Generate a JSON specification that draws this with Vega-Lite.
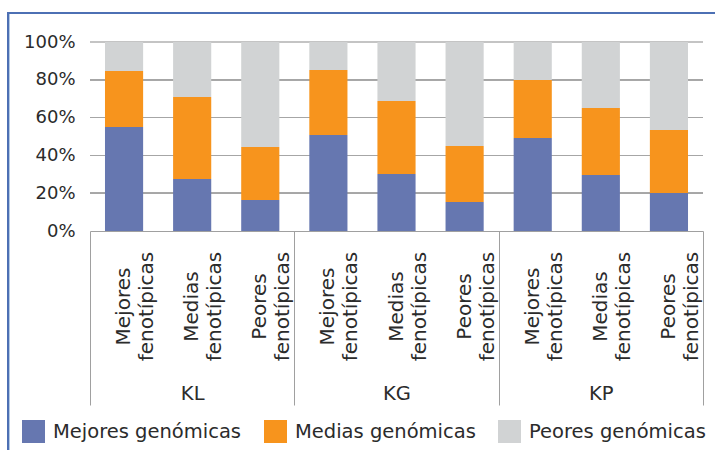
{
  "$schema": "https://vega.github.io/schema/vega-lite/v6.json",
  "autosize": {"type": "none"},
  "width": 613,
  "height": 189,
  "padding": {"left": 90, "top": 42, "right": 12, "bottom": 219},
  "background": "white",
  "config": {
    "font": "DejaVu Sans",
    "view": {"stroke": null},
    "axis": {"labelColor": "#2b2b2b", "labelFont": "DejaVu Sans"},
    "axisY": {"grid": false, "labelOverlap": false, "domain": false, "ticks": false, "labelPadding": 15, "labelFontSize": 18},
    "legend": {"labelColor": "#2b2b2b", "labelFont": "DejaVu Sans"}
  },
  "data": {
    "values": [
      {"grupo": "KL", "barra": "KL Mejores fenotípicas", "genomica": "Mejores genómicas", "k": 1, "valor": 55.0},
      {"grupo": "KL", "barra": "KL Mejores fenotípicas", "genomica": "Medias genómicas", "k": 2, "valor": 29.7},
      {"grupo": "KL", "barra": "KL Mejores fenotípicas", "genomica": "Peores genómicas", "k": 3, "valor": 15.3},
      {"grupo": "KL", "barra": "KL Medias fenotípicas", "genomica": "Mejores genómicas", "k": 1, "valor": 27.5},
      {"grupo": "KL", "barra": "KL Medias fenotípicas", "genomica": "Medias genómicas", "k": 2, "valor": 43.4},
      {"grupo": "KL", "barra": "KL Medias fenotípicas", "genomica": "Peores genómicas", "k": 3, "valor": 29.1},
      {"grupo": "KL", "barra": "KL Peores fenotípicas", "genomica": "Mejores genómicas", "k": 1, "valor": 16.4},
      {"grupo": "KL", "barra": "KL Peores fenotípicas", "genomica": "Medias genómicas", "k": 2, "valor": 28.0},
      {"grupo": "KL", "barra": "KL Peores fenotípicas", "genomica": "Peores genómicas", "k": 3, "valor": 55.6},
      {"grupo": "KG", "barra": "KG Mejores fenotípicas", "genomica": "Mejores genómicas", "k": 1, "valor": 50.8},
      {"grupo": "KG", "barra": "KG Mejores fenotípicas", "genomica": "Medias genómicas", "k": 2, "valor": 34.4},
      {"grupo": "KG", "barra": "KG Mejores fenotípicas", "genomica": "Peores genómicas", "k": 3, "valor": 14.8},
      {"grupo": "KG", "barra": "KG Medias fenotípicas", "genomica": "Mejores genómicas", "k": 1, "valor": 30.2},
      {"grupo": "KG", "barra": "KG Medias fenotípicas", "genomica": "Medias genómicas", "k": 2, "valor": 38.6},
      {"grupo": "KG", "barra": "KG Medias fenotípicas", "genomica": "Peores genómicas", "k": 3, "valor": 31.2},
      {"grupo": "KG", "barra": "KG Peores fenotípicas", "genomica": "Mejores genómicas", "k": 1, "valor": 15.3},
      {"grupo": "KG", "barra": "KG Peores fenotípicas", "genomica": "Medias genómicas", "k": 2, "valor": 29.7},
      {"grupo": "KG", "barra": "KG Peores fenotípicas", "genomica": "Peores genómicas", "k": 3, "valor": 55.0},
      {"grupo": "KP", "barra": "KP Mejores fenotípicas", "genomica": "Mejores genómicas", "k": 1, "valor": 49.2},
      {"grupo": "KP", "barra": "KP Mejores fenotípicas", "genomica": "Medias genómicas", "k": 2, "valor": 30.7},
      {"grupo": "KP", "barra": "KP Mejores fenotípicas", "genomica": "Peores genómicas", "k": 3, "valor": 20.1},
      {"grupo": "KP", "barra": "KP Medias fenotípicas", "genomica": "Mejores genómicas", "k": 1, "valor": 29.6},
      {"grupo": "KP", "barra": "KP Medias fenotípicas", "genomica": "Medias genómicas", "k": 2, "valor": 35.5},
      {"grupo": "KP", "barra": "KP Medias fenotípicas", "genomica": "Peores genómicas", "k": 3, "valor": 34.9},
      {"grupo": "KP", "barra": "KP Peores fenotípicas", "genomica": "Mejores genómicas", "k": 1, "valor": 20.1},
      {"grupo": "KP", "barra": "KP Peores fenotípicas", "genomica": "Medias genómicas", "k": 2, "valor": 33.3},
      {"grupo": "KP", "barra": "KP Peores fenotípicas", "genomica": "Peores genómicas", "k": 3, "valor": 46.6}
    ]
  },
  "layer": [
    {"mark": {"type": "rect", "fill": "#a6a6a6", "clip": false}, "encoding": {"x": {"datum": 0, "type": "quantitative", "scale": {"domain": [0, 9], "nice": false, "zero": false}, "axis": null}, "x2": {"datum": 9}, "y": {"datum": 0.1974, "type": "quantitative", "axis": null}, "y2": {"datum": 0.2026}}},
    {"mark": {"type": "rect", "fill": "#a6a6a6", "clip": false}, "encoding": {"x": {"datum": 0, "type": "quantitative", "scale": {"domain": [0, 9], "nice": false, "zero": false}, "axis": null}, "x2": {"datum": 9}, "y": {"datum": 0.3974, "type": "quantitative", "axis": null}, "y2": {"datum": 0.4026}}},
    {"mark": {"type": "rect", "fill": "#a6a6a6", "clip": false}, "encoding": {"x": {"datum": 0, "type": "quantitative", "scale": {"domain": [0, 9], "nice": false, "zero": false}, "axis": null}, "x2": {"datum": 9}, "y": {"datum": 0.5974, "type": "quantitative", "axis": null}, "y2": {"datum": 0.6026}}},
    {"mark": {"type": "rect", "fill": "#a6a6a6", "clip": false}, "encoding": {"x": {"datum": 0, "type": "quantitative", "scale": {"domain": [0, 9], "nice": false, "zero": false}, "axis": null}, "x2": {"datum": 9}, "y": {"datum": 0.7974, "type": "quantitative", "axis": null}, "y2": {"datum": 0.8026}}},
    {"mark": {"type": "rect", "fill": "#c4c4c4", "clip": false}, "encoding": {"x": {"datum": 0, "type": "quantitative", "scale": {"domain": [0, 9], "nice": false, "zero": false}, "axis": null}, "x2": {"datum": 9}, "y": {"datum": 0.9974, "type": "quantitative", "axis": null}, "y2": {"datum": 1.0026}}},
    {
      "mark": {"type": "bar"},
      "encoding": {
        "x": {
          "field": "barra", "type": "nominal", "sort": null,
          "scale": {"paddingInner": 0.44, "paddingOuter": 0.22},
          "axis": {
            "orient": "bottom",
            "title": null, "domain": false, "ticks": false,
            "labelAngle": 270, "labelAlign": "center", "labelBaseline": "middle",
            "labelPadding": 75, "labelFontSize": 20, "labelLineHeight": 23,
            "labelLimit": 300,
            "labelExpr": "slice(split(datum.value, ' '), 1)"
          }
        },
        "y": {
          "field": "valor", "type": "quantitative", "stack": "normalize",
          "scale": {"domain": [0, 1], "nice": false},
          "axis": {
            "orient": "left",
            "title": null, "format": ".0%", "values": [0, 0.2, 0.4, 0.6, 0.8, 1],
            "labelOverlap": false, "grid": false
          }
        },
        "color": {
          "field": "genomica", "type": "nominal",
          "scale": {
            "domain": ["Mejores genómicas", "Medias genómicas", "Peores genómicas"],
            "range": ["#6677b0", "#f7941d", "#d1d3d4"]
          },
          "legend": {
            "title": null, "orient": "none", "legendX": -68, "legendY": 378,
            "direction": "horizontal", "symbolType": "square", "symbolSize": 529,
            "symbolStrokeWidth": 0, "symbolOpacity": 1,
            "labelFontSize": 19.5, "labelOffset": 8, "columnPadding": 22, "labelLimit": 400
          }
        },
        "order": {"field": "k", "type": "quantitative"}
      }
    },
    {
      "mark": {"type": "point", "opacity": 0},
      "encoding": {
        "x": {
          "field": "grupo", "type": "nominal", "sort": null,
          "scale": {"paddingInner": 0, "paddingOuter": 0},
          "axis": {
            "orient": "bottom", "title": null,
            "domain": true, "domainColor": "#a0a0a0", "domainWidth": 1,
            "ticks": true, "tickBand": "extent", "tickSize": 174, "tickColor": "#a0a0a0", "tickWidth": 1,
            "labelAngle": 0, "labelAlign": "center", "labelBaseline": "top",
            "labelPadding": -21, "labelFontSize": 19.5
          }
        }
      }
    },
    {
      "mark": {"type": "rect", "fill": null, "stroke": "#4d70b4", "strokeWidth": 1.5, "clip": false},
      "encoding": {
        "x": {"datum": -1.2, "type": "quantitative", "scale": {"domain": [0, 9], "nice": false, "zero": false}, "axis": null},
        "x2": {"datum": 12},
        "y": {"datum": 1.155, "type": "quantitative", "axis": null},
        "y2": {"datum": -3}
      }
    }
  ],
  "resolve": {"scale": {"x": "independent", "color": "independent"}, "axis": {"x": "independent", "y": "independent"}}
}
